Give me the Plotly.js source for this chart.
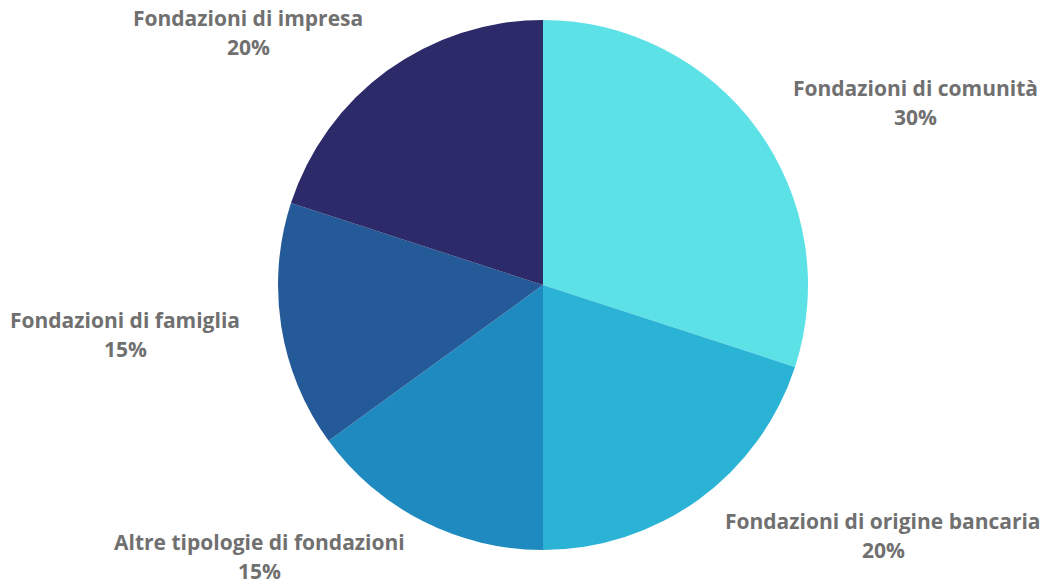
<!DOCTYPE html>
<html><head><meta charset="utf-8">
<script src="https://cdn.plot.ly/plotly-3.0.1.min.js"></script>
<style>html,body{margin:0;padding:0;background:#fff}#c{width:1045px;height:587px}</style>
</head><body><div id="c"></div>
<script>
const categories = ["Fondazioni di comunità","Fondazioni di origine bancaria","Altre tipologie di fondazioni","Fondazioni di famiglia","Fondazioni di impresa"];
const values = [30, 20, 15, 15, 20];
const colors = ["#5CE1E6","#2BB3D6","#1E8AC0","#245A97","#2C2A68"];
// label anchor positions (pixels, centre of the two-line block)
const labelPos = [[915,102],[883,535],[259,556],[125,334],[248,32]];

const W = 1045, H = 587;
const total = values.reduce((a,b)=>a+b,0);
const annotations = [];
categories.forEach((c,i)=>{
  const [px,py] = labelPos[i];
  const font = {family:"Open Sans", size:21, color:"#707070", weight:700};
  annotations.push({text:"<b>"+c+"</b>", x:px/W, y:1-(py-14)/H, xref:"paper", yref:"paper", showarrow:false, xanchor:"center", yanchor:"middle", borderpad:0, font});
  annotations.push({text:"<b>"+Math.round(values[i]/total*100)+"%</b>", x:px/W, y:1-(py+15)/H, xref:"paper", yref:"paper", showarrow:false, xanchor:"center", yanchor:"middle", borderpad:0, font});
});

Plotly.newPlot("c", [{
  type:"pie",
  labels:categories,
  values:values,
  sort:false,
  direction:"clockwise",
  rotation:0,
  marker:{colors:colors, line:{width:0}},
  textinfo:"none",
  hoverinfo:"label+percent",
  domain:{x:[278/W, 808/W], y:[1-550/H, 1-20/H]}
}], {
  width:W, height:H,
  margin:{l:0,r:0,t:0,b:0},
  showlegend:false,
  paper_bgcolor:"#fff",
  annotations:annotations
}, {displayModeBar:false, staticPlot:true});
</script></body></html>
